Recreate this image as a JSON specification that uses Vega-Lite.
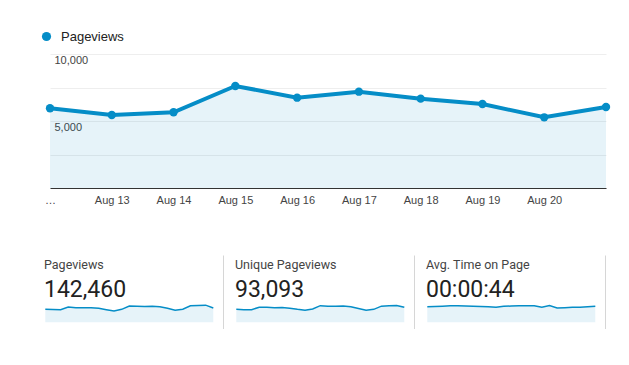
{
  "$schema": "https://vega.github.io/schema/vega-lite/v6.json",
  "background": "white",
  "padding": {"left": 36, "top": 30, "right": 0, "bottom": 0},
  "config": {"view": {"stroke": null}, "font": "Liberation Sans"},
  "spacing": 50,
  "vconcat": [
    {
      "width": 556,
      "height": 134,
      "data": {"values": [
        {"date": "Aug 12", "series": "Pageviews", "pageviews": 5948},
        {"date": "Aug 13", "series": "Pageviews", "pageviews": 5448},
        {"date": "Aug 14", "series": "Pageviews", "pageviews": 5649},
        {"date": "Aug 15", "series": "Pageviews", "pageviews": 7612},
        {"date": "Aug 16", "series": "Pageviews", "pageviews": 6741},
        {"date": "Aug 17", "series": "Pageviews", "pageviews": 7189},
        {"date": "Aug 18", "series": "Pageviews", "pageviews": 6667},
        {"date": "Aug 19", "series": "Pageviews", "pageviews": 6269},
        {"date": "Aug 20", "series": "Pageviews", "pageviews": 5274},
        {"date": "Aug 21", "series": "Pageviews", "pageviews": 6045}
      ]},
      "encoding": {
        "x": {"field": "date", "type": "ordinal", "sort": null,
          "scale": {"type": "point", "padding": 0},
          "axis": {"title": null, "domainColor": "#333", "domainWidth": 1, "ticks": false,
            "labelFont": "Liberation Sans", "labelFontSize": 11, "labelColor": "#444",
            "labelPadding": 6, "labelAngle": 0, "labelOverlap": false, "grid": false, "zindex": 1,
            "labelExpr": "datum.value == 'Aug 12' ? '…' : datum.value == 'Aug 21' ? '' : datum.value"}},
        "y": {"field": "pageviews", "type": "quantitative",
          "scale": {"domain": [0, 10000], "nice": false},
          "axis": {"title": null, "values": [0, 2500, 5000, 7500, 10000], "grid": true, "gridColor": "#eeeeee",
            "domain": false, "ticks": false, "labelAlign": "left", "labelBaseline": "top", "minExtent": 14,
            "labelPadding": -4, "labelDy": 3, "labelFont": "Liberation Sans", "labelFontSize": 11, "labelColor": "#444",
            "labelExpr": "datum.value == 5000 || datum.value == 10000 ? datum.label : ''"}}
      },
      "layer": [
        {"mark": {"type": "area", "color": "#058DC7", "opacity": 0.1}},
        {"mark": {"type": "line", "color": "#058DC7", "strokeWidth": 4}},
        {"mark": {"type": "circle", "size": 70, "opacity": 1},
          "encoding": {"color": {"field": "series", "type": "nominal",
            "scale": {"range": ["#058DC7"]},
            "legend": {"title": null, "orient": "none", "legendX": -10, "legendY": -24,
              "symbolType": "circle", "symbolSize": 85, "symbolOpacity": 1, "labelOffset": 8,
              "labelFont": "Liberation Sans", "labelFontSize": 13, "labelColor": "#222"}}}}
      ]
    },
    {
      "spacing": 10,
      "hconcat": [
        {
          "width": 173,
          "height": 74,
          "title": {"text": "Pageviews", "subtitle": "142,460", "anchor": "start", "frame": "group", "offset": -47, "dx": -6,
            "font": "Roboto", "fontSize": 12.5, "fontWeight": "normal", "color": "#444",
            "subtitleFont": "Roboto", "subtitleFontSize": 23, "subtitleColor": "#222", "subtitlePadding": 8},
          "data": {"values": [
            {"day": 0, "pageviews": 5577}, {"day": 1, "pageviews": 5506}, {"day": 2, "pageviews": 5434},
            {"day": 3, "pageviews": 6578}, {"day": 4, "pageviews": 6292}, {"day": 5, "pageviews": 6221},
            {"day": 6, "pageviews": 6292}, {"day": 7, "pageviews": 6006}, {"day": 8, "pageviews": 5434},
            {"day": 9, "pageviews": 4862}, {"day": 10, "pageviews": 5577}, {"day": 11, "pageviews": 7007},
            {"day": 12, "pageviews": 6864}, {"day": 13, "pageviews": 6793}, {"day": 14, "pageviews": 6864},
            {"day": 15, "pageviews": 6650}, {"day": 16, "pageviews": 6006}, {"day": 17, "pageviews": 5148},
            {"day": 18, "pageviews": 5649}, {"day": 19, "pageviews": 7079}, {"day": 20, "pageviews": 7222},
            {"day": 21, "pageviews": 7365}, {"day": 22, "pageviews": 6149}
          ]},
          "encoding": {
            "x": {"field": "day", "type": "quantitative", "scale": {"domain": [0.615, 23.27], "nice": false, "zero": false}, "axis": null},
            "y": {"field": "pageviews", "type": "quantitative", "scale": {"domain": [-2860, 28886], "nice": false, "zero": false},
              "axis": {"orient": "right", "title": null, "domain": true, "domainColor": "#d6d6d6", "labels": false, "ticks": false, "grid": false}}
          },
          "layer": [
            {"mark": {"type": "area", "color": "#058DC7", "opacity": 0.1}, "encoding": {"y2": {"datum": 0}}},
            {"mark": {"type": "line", "color": "#058DC7", "strokeWidth": 1.5}}
          ]
        },
        {
          "width": 173,
          "height": 74,
          "title": {"text": "Unique Pageviews", "subtitle": "93,093", "anchor": "start", "frame": "group", "offset": -47, "dx": -6,
            "font": "Roboto", "fontSize": 12.5, "fontWeight": "normal", "color": "#444",
            "subtitleFont": "Roboto", "subtitleFontSize": 23, "subtitleColor": "#222", "subtitlePadding": 8},
          "data": {"values": [
            {"day": 0, "unique": 3611}, {"day": 1, "unique": 3473}, {"day": 2, "unique": 3519},
            {"day": 3, "unique": 4213}, {"day": 4, "unique": 4167}, {"day": 5, "unique": 4074},
            {"day": 6, "unique": 4121}, {"day": 7, "unique": 3936}, {"day": 8, "unique": 3611},
            {"day": 9, "unique": 3380}, {"day": 10, "unique": 3704}, {"day": 11, "unique": 4630},
            {"day": 12, "unique": 4491}, {"day": 13, "unique": 4491}, {"day": 14, "unique": 4537},
            {"day": 15, "unique": 4352}, {"day": 16, "unique": 3843}, {"day": 17, "unique": 3380},
            {"day": 18, "unique": 3611}, {"day": 19, "unique": 4491}, {"day": 20, "unique": 4584},
            {"day": 21, "unique": 4676}, {"day": 22, "unique": 4167}
          ]},
          "encoding": {
            "x": {"field": "day", "type": "quantitative", "scale": {"domain": [0.615, 23.27], "nice": false, "zero": false}, "axis": null},
            "y": {"field": "unique", "type": "quantitative", "scale": {"domain": [-1852, 18705], "nice": false, "zero": false},
              "axis": {"orient": "right", "title": null, "domain": true, "domainColor": "#d6d6d6", "labels": false, "ticks": false, "grid": false}}
          },
          "layer": [
            {"mark": {"type": "area", "color": "#058DC7", "opacity": 0.1}, "encoding": {"y2": {"datum": 0}}},
            {"mark": {"type": "line", "color": "#058DC7", "strokeWidth": 1.5}}
          ]
        },
        {
          "width": 173,
          "height": 74,
          "title": {"text": "Avg. Time on Page", "subtitle": "00:00:44", "anchor": "start", "frame": "group", "offset": -47, "dx": -6,
            "font": "Roboto", "fontSize": 12.5, "fontWeight": "normal", "color": "#444",
            "subtitleFont": "Roboto", "subtitleFontSize": 23, "subtitleColor": "#222", "subtitlePadding": 8},
          "data": {"values": [
            {"day": 0, "seconds": 43.5}, {"day": 1, "seconds": 44.0}, {"day": 2, "seconds": 44.9},
            {"day": 3, "seconds": 45.8}, {"day": 4, "seconds": 45.8}, {"day": 5, "seconds": 45.4},
            {"day": 6, "seconds": 44.9}, {"day": 7, "seconds": 44.0}, {"day": 8, "seconds": 43.1},
            {"day": 9, "seconds": 42.1}, {"day": 10, "seconds": 44.4}, {"day": 11, "seconds": 45.4},
            {"day": 12, "seconds": 46.3}, {"day": 13, "seconds": 46.3}, {"day": 14, "seconds": 46.3},
            {"day": 15, "seconds": 41.7}, {"day": 16, "seconds": 46.8}, {"day": 17, "seconds": 39.8},
            {"day": 18, "seconds": 40.7}, {"day": 19, "seconds": 41.7}, {"day": 20, "seconds": 42.1},
            {"day": 21, "seconds": 43.1}, {"day": 22, "seconds": 44.4}
          ]},
          "encoding": {
            "x": {"field": "day", "type": "quantitative", "scale": {"domain": [0.615, 23.27], "nice": false, "zero": false}, "axis": null},
            "y": {"field": "seconds", "type": "quantitative", "scale": {"domain": [-18.5, 187], "nice": false, "zero": false},
              "axis": {"orient": "right", "title": null, "domain": true, "domainColor": "#d6d6d6", "labels": false, "ticks": false, "grid": false}}
          },
          "layer": [
            {"mark": {"type": "area", "color": "#058DC7", "opacity": 0.1}, "encoding": {"y2": {"datum": 0}}},
            {"mark": {"type": "line", "color": "#058DC7", "strokeWidth": 1.5}}
          ]
        }
      ]
    }
  ]
}
